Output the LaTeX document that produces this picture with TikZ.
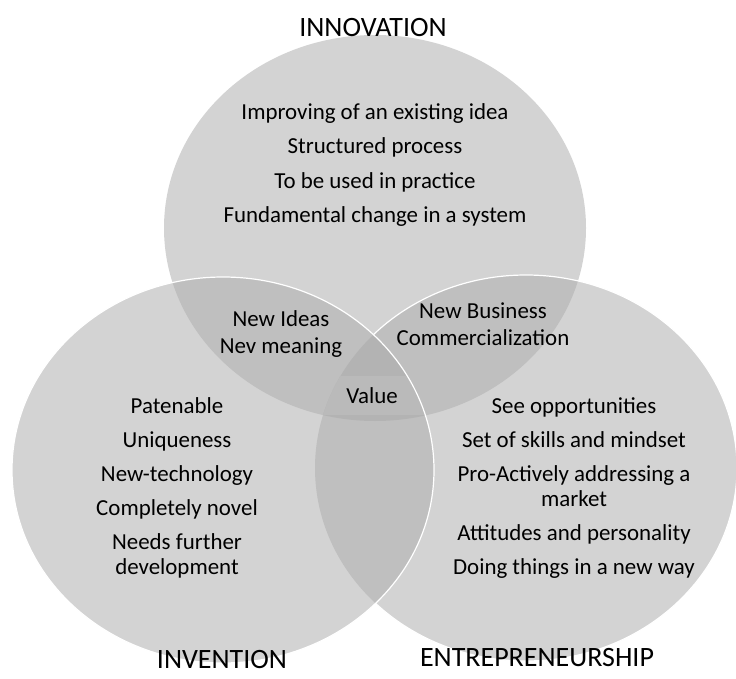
\documentclass[tikz,border=0pt]{standalone}
\usepackage{fontspec}
\setmainfont{Carlito}

\definecolor{discgray}{RGB}{211,211,211}
\definecolor{pairgray}{RGB}{191,191,191}
\definecolor{coregray}{RGB}{179,179,179}
\definecolor{bandgray}{RGB}{186,186,186}

\newcommand{\innovdisc}{(375,228) ellipse [x radius=211pt, y radius=193pt]}
\newcommand{\inventdisc}{(223,470) ellipse [x radius=211pt, y radius=193pt]}
\newcommand{\entredisc}{(526,468) ellipse [x radius=211pt, y radius=193pt]}

\begin{document}
\begin{tikzpicture}[
    x=1pt, y=-1pt,
    title/.style={font=\fontsize{28}{32}\selectfont},
    items/.style={align=center,font=\fontsize{22.9}{25}\selectfont},
    pair/.style={align=center,font=\fontsize{22.9}{27.5}\selectfont},
    rim/.style={white,line width=1.2pt},
]
\useasboundingbox (0,0) rectangle (736,679);

% Innovation - top
\fill[discgray] \innovdisc;

% Entrepreneurship - right
\fill[discgray] \entredisc;
\begin{scope}
  \clip \innovdisc;
  \fill[pairgray] \entredisc;
\end{scope}
\draw[rim] \entredisc;

% Invention - left
\fill[discgray] \inventdisc;
\begin{scope}
  \clip \inventdisc;
  \fill[pairgray] \innovdisc;
  \fill[pairgray] \entredisc;
  \clip \innovdisc;
  \fill[coregray] \entredisc;
  \clip \entredisc;
  \fill[bandgray] (300,376) rectangle (450,415);
\end{scope}
\draw[rim] \inventdisc;

% Titles
\node[title] (innovation) at (373,28) {INNOVATION};
\node[title] (invention) at (222,660) {INVENTION};
\node[title] (entrepreneurship) at (537,658) {ENTREPRENEURSHIP};

% Lists
\node[items] (innovList) at (375,165) {Improving of an existing idea\\[9.3pt]
    Structured process\\[9.3pt] To be used in practice\\[9.3pt]
    Fundamental change in a system};
\node[items] (inventList) at (177,488) {Patenable\\[9pt] Uniqueness\\[9pt]
    New-technology\\[9pt] Completely novel\\[9pt] Needs further\\ development};
\node[items] (entreList) at (574,488) {See opportunities\\[9pt]
    Set of skills and mindset\\[9pt] Pro-Actively addressing a\\ market\\[9pt]
    Attitudes and personality\\[9pt] Doing things in a new way};

% Overlaps
\node[pair] (ideas) at (281,334) {New Ideas\\ Nev meaning};
\node[pair] (business) at (483,324) {New Business\\ Commercialization};
\node[items] (value) at (372,396) {Value};
\end{tikzpicture}
\end{document}
